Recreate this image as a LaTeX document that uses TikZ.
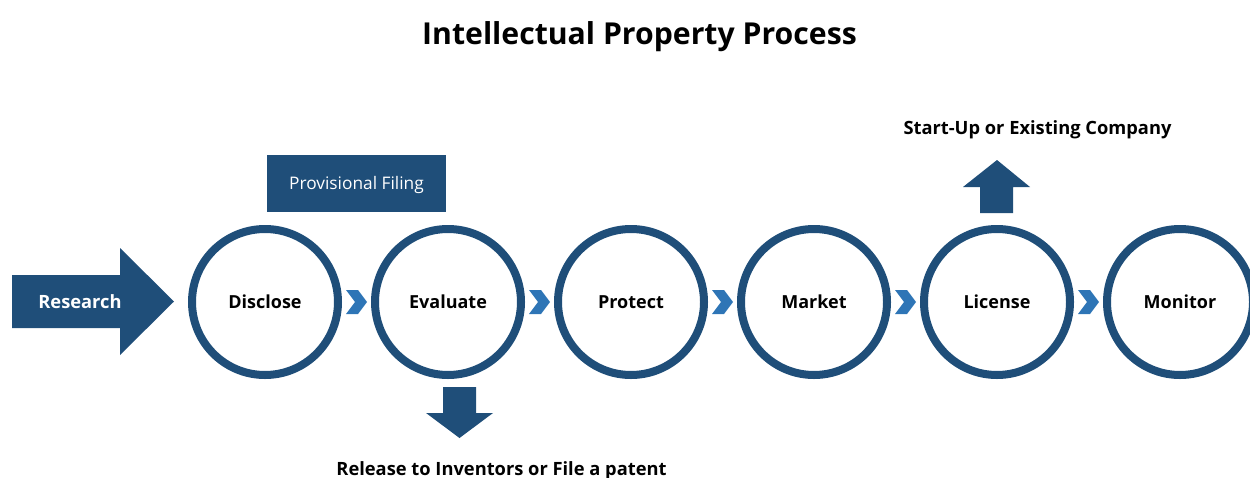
\documentclass[tikz,border=0pt]{standalone}
\usepackage{fontspec}
\setmainfont{Open Sans}
\usetikzlibrary{calc}
\definecolor{ipnavy}{HTML}{1F4E79}
\definecolor{ipsky}{HTML}{2E75B6}
\begin{document}
\begin{tikzpicture}[x=1pt,y=-1pt,
  stage/.style={circle, draw=ipnavy, line width=8pt, minimum size=146pt, inner sep=0pt,
    fill=white, font=\fontsize{18}{20}\selectfont\bfseries, text height=12.9pt, text depth=0pt},
  caption/.style={font=\fontsize{18.3}{20}\selectfont\bfseries, anchor=base, inner sep=0pt},
  heading/.style={font=\fontsize{30.2}{34}\selectfont\bfseries, anchor=base, inner sep=0pt},
  chevron/.pic={\fill[ipsky] (-10.5,-12) -- (1.5,-12) -- (10.5,0) -- (1.5,12) -- (-10.5,12) -- (-1.5,0) -- cycle;}
]
\useasboundingbox (0,0) rectangle (1250,477);

% title
\node[heading] (title) at (639.5,44) {Intellectual Property Process};

% incoming research arrow
\fill[ipnavy] (12,275) -- (120,275) -- (120,248) -- (174,301.5) -- (120,355) -- (120,328) -- (12,328) -- cycle;
\node[caption, text=white, anchor=center, text height=12.9pt, text depth=0pt] (research) at (80,302) {Research};

% process stages
\node[stage] (disclose) at (265,302) {Disclose};
\node[stage] (evaluate) at (448,302) {Evaluate};
\node[stage] (protect)  at (631,302) {Protect};
\node[stage] (market)   at (814,302) {Market};
\node[stage] (license)  at (997,302) {License};
\node[stage] (monitor)  at (1180,302) {Monitor};

% chevrons between stages
\pic at ($(disclose.east)!0.5!(evaluate.west)$) {chevron};
\pic at ($(evaluate.east)!0.5!(protect.west)$) {chevron};
\pic at ($(protect.east)!0.5!(market.west)$) {chevron};
\pic at ($(market.east)!0.5!(license.west)$) {chevron};
\pic at ($(license.east)!0.5!(monitor.west)$) {chevron};

% provisional filing box
\node[fill=ipnavy, minimum width=179pt, minimum height=57pt, inner sep=0pt, text=white,
  font=\fontsize{17.3}{20}\selectfont, text height=12.4pt, text depth=0pt]
  (provisional) at (356.5,183.5) {Provisional Filing};

% up arrow above License
\fill[ipnavy] (980,213) -- (980,187) -- (963,187) -- (997,160) -- (1030,187) -- (1013,187) -- (1013,213) -- cycle;
\node[caption] (startup) at (1037.5,134) {Start-Up or Existing Company};

% down arrow below Evaluate
\fill[ipnavy] (443,387) -- (476,387) -- (476,413) -- (493,413) -- (459.5,438) -- (426,413) -- (443,413) -- cycle;
\node[caption] (release) at (501.5,475) {Release to Inventors or File a patent};
\end{tikzpicture}
\end{document}
